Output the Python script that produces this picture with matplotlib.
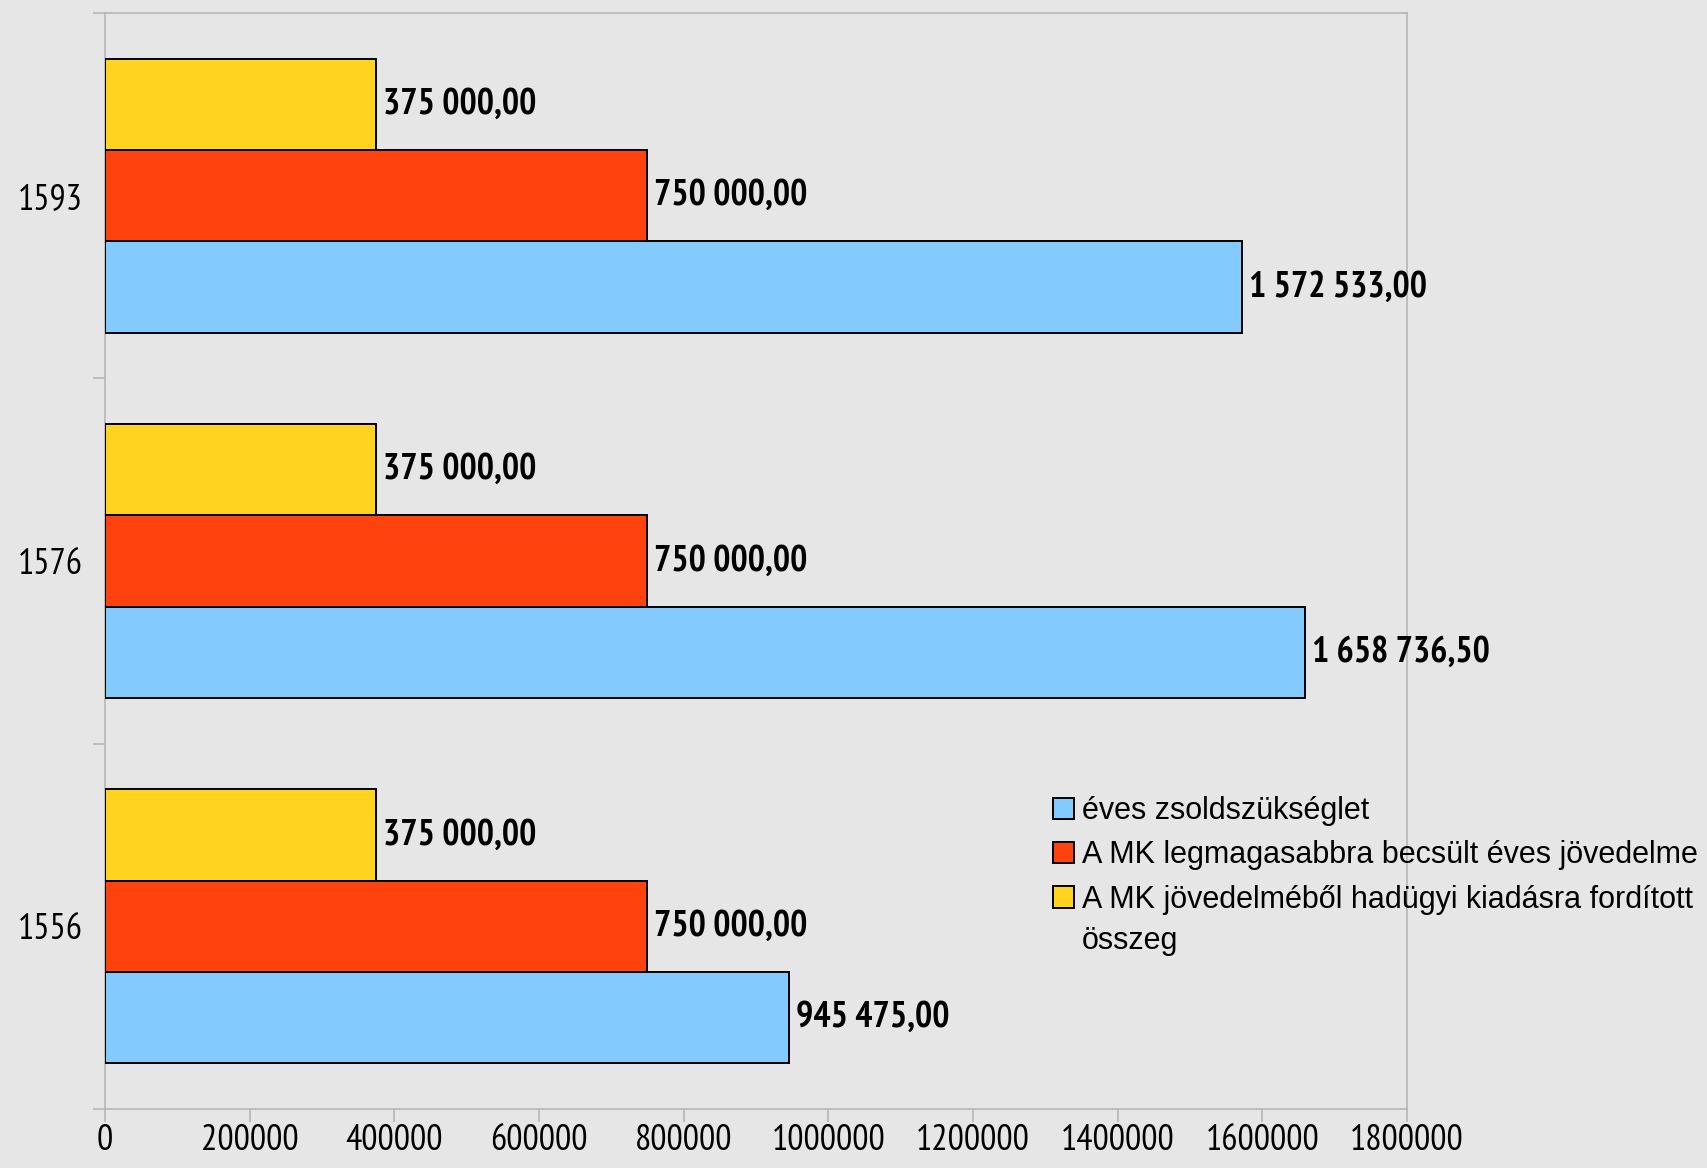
import matplotlib
matplotlib.use('Agg')
import matplotlib.pyplot as plt
import numpy as np

years = ['1556', '1576', '1593']
zsold = [945475.0, 1658736.5, 1572533.0]
jovedelem = [750000.0, 750000.0, 750000.0]
hadugy = [375000.0, 375000.0, 375000.0]
series_names = ['éves zsoldszükséglet',
                'A MK legmagasabbra becsült éves jövedelme',
                'A MK jövedelméből hadügyi kiadásra fordított']
x_ticks = [0, 200000, 400000, 600000, 800000, 1000000, 1200000, 1400000, 1600000, 1800000]

colors = ['#83caff', '#ff420e', '#ffd320']
bg = '#e6e6e6'
grey = '#b3b3b3'
narrow = ['PT Sans Narrow', 'DejaVu Sans']
legfont = ['Liberation Sans', 'DejaVu Sans']

def fmt(v):
    s = '{:,.2f}'.format(v)
    return s.replace(',', ' ').replace('.', ',')

fig = plt.figure(figsize=(17.08, 11.68), dpi=100, facecolor=bg)
ax = fig.add_axes([105/1708, 1 - 1109/1168, (1407-105)/1708, (1109-13)/1168])
ax.set_facecolor(bg)

pos = np.arange(len(years))
h = 0.25
bars = []
for i, (vals, c, name) in enumerate(zip([zsold, jovedelem, hadugy], colors, series_names)):
    b = ax.barh(pos + (i - 1) * h, vals, height=h, color=c, edgecolor='black',
                linewidth=1.4, label=name, zorder=3)
    bars.append(b)
    for rect, v in zip(b, vals):
        ax.annotate(fmt(v), (rect.get_width(), rect.get_y() + rect.get_height() / 2),
                    xytext=(5, 0), textcoords='offset points', va='center', ha='left',
                    fontsize=26, fontweight='bold', family=narrow, color='black')

ax.set_xlim(0, 1800000)
ax.set_ylim(-0.5, 2.5)
ax.set_xticks(x_ticks)
ax.set_xticklabels([str(t) for t in x_ticks], family=narrow, fontsize=26)
ax.set_yticks(pos)
ax.set_yticklabels(years, family=narrow, fontsize=26)
ax.set_yticks([-0.5, 0.5, 1.5, 2.5], minor=True)
ax.tick_params(axis='y', which='major', length=0, pad=16)
ax.tick_params(axis='y', which='minor', length=9, width=1.1, color=grey)
ax.tick_params(axis='x', length=9, width=1.1, color=grey, pad=2)
for s in ax.spines.values():
    s.set_color(grey)
    s.set_linewidth(1.1)

leg = ax.legend(handles=bars, loc='upper left', bbox_to_anchor=(1053/1708, 1 - 796/1168),
                bbox_transform=fig.transFigure, frameon=False,
                prop={'family': legfont, 'size': 22},
                handlelength=0.7, handleheight=0.7, handletextpad=0.25,
                labelspacing=0.47, borderpad=0, borderaxespad=0)
fig.text(1082/1708, 1 - 941/1168, 'összeg', family=legfont, fontsize=22,
         va='center', ha='left')

fig.savefig('out.png', dpi=100, facecolor=bg)
